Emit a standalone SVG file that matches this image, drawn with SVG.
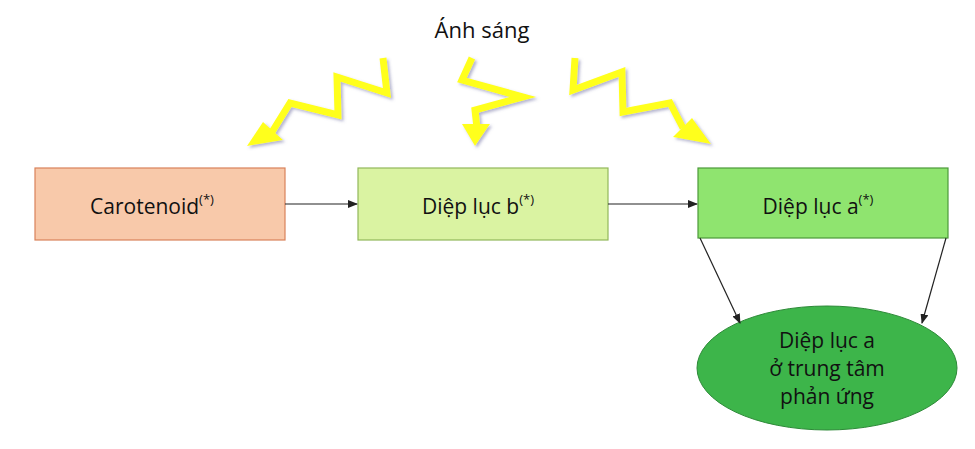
<svg xmlns="http://www.w3.org/2000/svg" width="975" height="449" viewBox="0 0 975 449">
<style>
text{font-family:"Open Sans","Liberation Sans",sans-serif;fill:#111;text-anchor:middle}
.box{stroke-width:1.2}
.bolt{fill:none;stroke:#ffff1a;stroke-width:7;stroke-linejoin:miter}
.con{stroke:#222;stroke-width:1.2;fill:none;marker-end:url(#ah)}
</style>
<defs>
<marker id="ah" markerWidth="10" markerHeight="8" refX="9" refY="4" orient="auto" markerUnits="userSpaceOnUse"><path d="M0,0L10,4L0,8z" fill="#222"/></marker>
<filter id="sh"><feDropShadow dx="2" dy="2" stdDeviation="1.5" flood-color="#6a6aa0" flood-opacity="0.5"/></filter>
</defs>
<rect width="975" height="449" fill="#fff"/>
<g id="light">
<text x="482" y="38" font-size="22">Ánh sáng</text>
<g filter="url(#sh)">
<polyline class="bolt" points="383,58 387,93 337,77 338,115 290,103 272,132"/>
<polygon fill="#ffff1a" points="247,146 283,140 263,122"/>
<polyline class="bolt" points="472,58 462,80 523,97 475,110 477,128"/>
<polygon fill="#ffff1a" points="475,146 462,124 490,124"/>
<polyline class="bolt" points="575,58 573,90 622,72 623,112 670,103 683,128"/>
<polygon fill="#ffff1a" points="711,144 673,137 692,118"/>
</g>
</g>
<g id="carotenoid">
<rect class="box" x="35" y="168" width="250" height="72" fill="#f8c9aa" stroke="#d9825a"/>
<text x="152" y="214" font-size="21">Carotenoid<tspan font-size="13" dy="-10">(*)</tspan></text>
</g>
<g id="dieplucb">
<rect class="box" x="358" y="168" width="250" height="72" fill="#daf3a2" stroke="#92b85a"/>
<text x="478" y="214" font-size="21">Diệp lục b<tspan font-size="13" dy="-10">(*)</tspan></text>
</g>
<g id="dieplucа">
<rect class="box" x="698" y="168" width="250" height="70" fill="#8fe46f" stroke="#4c9a3a"/>
<text x="818" y="214" font-size="21">Diệp lục a<tspan font-size="13" dy="-10">(*)</tspan></text>
</g>
<g id="center">
<ellipse cx="827" cy="368" rx="130" ry="62" fill="#3db54a" stroke="#2d8a38"/>
<text font-size="21"><tspan x="827" y="348">Diệp lục a</tspan><tspan x="827" y="376">ở trung tâm</tspan><tspan x="827" y="404">phản ứng</tspan></text>
</g>
<g id="connectors">
<line class="con" x1="285" y1="204" x2="357" y2="204"/>
<line class="con" x1="608" y1="204" x2="697" y2="204"/>
<line class="con" x1="700" y1="238" x2="740" y2="323"/>
<line class="con" x1="946" y1="238" x2="922" y2="323"/>
</g>
</svg>
